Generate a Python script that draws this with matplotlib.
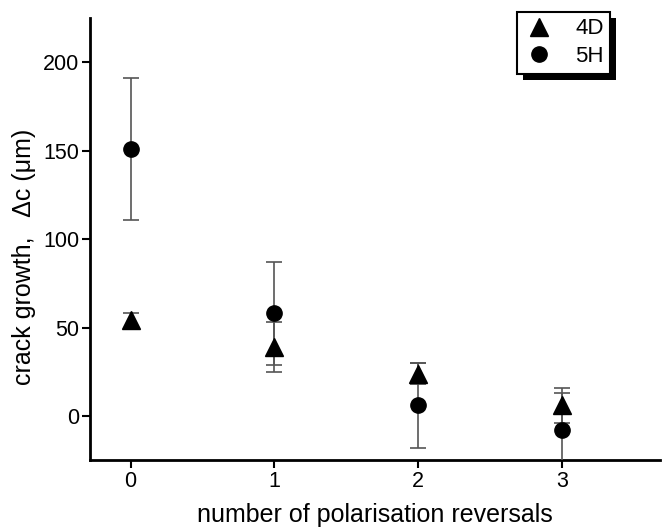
import matplotlib
matplotlib.use('Agg')
import matplotlib.pyplot as plt
from matplotlib.lines import Line2D
from matplotlib.patches import Rectangle

plt.rcParams['font.family'] = ['Liberation Sans', 'DejaVu Sans']

# data
reversals = [0, 1, 2, 3]
growth_4d = [54, 39, 24, 6]
err_4d = [4, 14, 6, 10]
growth_5h = [151, 58, 6, -8]
err_5h = [40, 29, 24, 21]
series_names = ['4D', '5H']
x_ticks = [0, 1, 2, 3]
y_ticks = [0, 50, 100, 150, 200]

fig = plt.figure(figsize=(6.64, 5.29), dpi=100)
ax = fig.add_axes([0.136, 0.130, 0.858, 0.836])

ax.errorbar(reversals, growth_5h, yerr=err_5h, fmt='o', color='black',
            ms=11, ecolor='#555555', elinewidth=1.2, capsize=6, capthick=1.2,
            zorder=3)
ax.errorbar(reversals, growth_4d, yerr=err_4d, fmt='^', color='black',
            ms=12.5, ecolor='#555555', elinewidth=1.2, capsize=6, capthick=1.2,
            zorder=3)

ax.set_xlim(-0.28, 3.68)
ax.set_ylim(-25, 225)
ax.set_xticks(x_ticks)
ax.set_yticks(y_ticks)

for s in ['top', 'right']:
    ax.spines[s].set_visible(False)
for s in ['left', 'bottom']:
    ax.spines[s].set_linewidth(2)
ax.tick_params(direction='out', length=6, width=1.5, labelsize=15.5, pad=2)

ax.set_xlabel('number of polarisation reversals', fontsize=18, labelpad=8)
ax.set_ylabel('crack growth,   \u0394c (\u03bcm)', fontsize=18)
ax.yaxis.set_label_coords(-0.095, 0.46)

# legend with a hard black drop shadow
handles = [Line2D([], [], ls='none', marker='^', color='black', ms=12.5),
           Line2D([], [], ls='none', marker='o', color='black', ms=11)]
leg = ax.legend(handles, series_names, loc='upper right',
                bbox_to_anchor=(0.919, 0.978), bbox_transform=fig.transFigure,
                fancybox=False, framealpha=1, edgecolor='black', fontsize=16,
                handletextpad=0.9, borderpad=0.3, labelspacing=0.3,
                handlelength=1.4, borderaxespad=0)
leg.get_frame().set_linewidth(1.5)
leg.set_zorder(6)

fig.canvas.draw()
bb = leg.get_window_extent()
inv = ax.transAxes.inverted()
(x0, y0), (x1, y1) = inv.transform([[bb.x0 + 6, bb.y0 - 6], [bb.x1 + 6, bb.y1 - 6]])
ax.add_patch(Rectangle((x0, y0), x1 - x0, y1 - y0, transform=ax.transAxes,
                       facecolor='black', edgecolor='none', clip_on=False,
                       zorder=5.5))

fig.savefig('out.png', dpi=100)
